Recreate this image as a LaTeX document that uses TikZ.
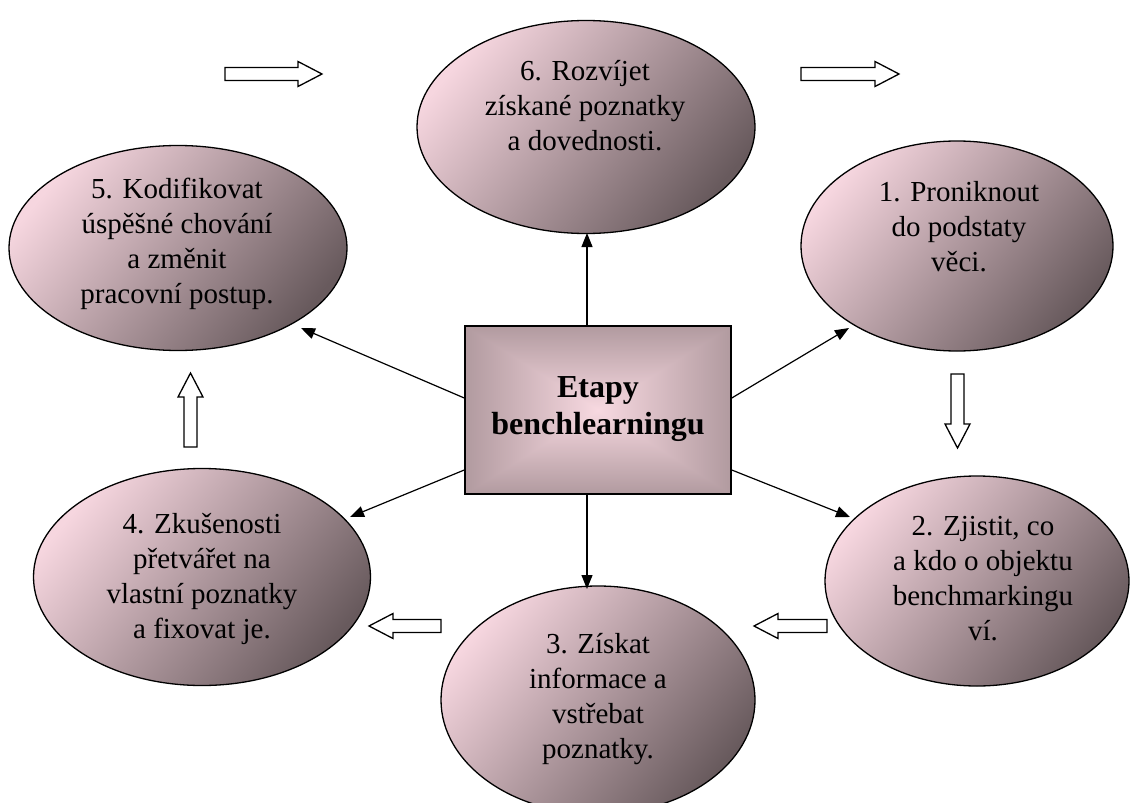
\documentclass[tikz,border=0pt]{standalone}
\usepackage{fontspec}
\setmainfont{Liberation Serif}
\usetikzlibrary{shapes.geometric,arrows.meta,calc}
\definecolor{elA}{RGB}{246,214,223}
\definecolor{elB}{RGB}{104,90,93}
\pgfdeclarefunctionalshading{burst}{\pgfpoint{-50bp}{-50bp}}{\pgfpoint{50bp}{50bp}}{}{
abs exch abs 2 copy lt {exch} if pop 50 div
dup -0.55 mul 0.97 add
exch dup -0.49 mul 0.85 add
exch -0.51 mul 0.88 add
}
\newcommand{\blockarr}[4]{\draw[blk, shift={(#1,#2)}, rotate=#3] (0,-6.5) -- ({#4-24},-6.5) -- ({#4-24},-12.5) -- (#4,0) -- ({#4-24},12.5) -- ({#4-24},6.5) -- (0,6.5) -- cycle;}
\tikzset{
  ell/.style={ellipse, draw=black, line width=1.3pt, inner sep=0pt, top color=elA, bottom color=elB, shading angle=50},
  lbl/.style={align=center, font=\fontsize{29}{35}\selectfont, inner sep=0pt},
  conn/.style={line width=1.2pt, -{Triangle[length=14pt,width=11pt]}},
  blk/.style={draw=black, line width=1.3pt, fill=white, line join=miter},
}
\begin{document}
\begin{tikzpicture}[x=1pt,y=-1pt]
\useasboundingbox (0,0) rectangle (1130,803);
% ellipses
\node[ell, minimum width=338pt, minimum height=213pt] (e6) at (586,127) {};
\node[ell, minimum width=338pt, minimum height=205pt] (e5) at (178,248) {};
\node[ell, minimum width=312pt, minimum height=210pt] (e1) at (957,246) {};
\node[ell, minimum width=304pt, minimum height=210pt] (e2) at (977,581) {};
\node[ell, minimum width=337pt, minimum height=217pt] (e4) at (202,577) {};
\node[ell, minimum width=314pt, minimum height=228pt] (e3) at (598,700) {};
% texts
\node[lbl] (t6) at (585,106) {6. Rozvíjet\\získané poznatky\\a dovednosti.};
\node[lbl] (t5) at (177,244) {5. Kodifikovat\\úspěšné chování\\a změnit\\pracovní postup.};
\node[lbl] (t1) at (959,227) {1. Proniknout\\do podstaty\\věci.};
\node[lbl] (t2) at (983,579) {2. Zjistit, co\\a kdo o objektu\\benchmarkingu\\ví.};
\node[lbl] (t3) at (598,699) {3. Získat\\informace a\\vstřebat\\poznatky.};
\node[lbl] (t4) at (202,579) {4. Zkušenosti\\přetvářet na\\vlastní poznatky\\a fixovat je.};
% central box
\node[draw=black, line width=1.5pt, shade, shading=burst, minimum width=266pt, minimum height=168pt, inner sep=0pt] (box) at (598,410) {};
\node[align=center, font=\bfseries\fontsize{32}{37}\selectfont, inner sep=0pt] (tb) at (598,409) {Etapy\\benchlearningu};
% connector ends
\coordinate (a6) at (587,233);
\coordinate (a5) at (301,328);
\coordinate (a1) at (849,328);
\coordinate (a4) at (350,517);
\coordinate (a2) at (850,517);
\coordinate (a3) at (587,589);
\draw[conn] ($(box.north)+(-11,0)$) -- (a6);
\draw[conn] ($(box.west)+(0,-12)$) -- (a5);
\draw[conn] ($(box.east)+(0,-12)$) -- (a1);
\draw[conn] ($(box.west)+(0,60)$) -- (a4);
\draw[conn] ($(box.east)+(0,60)$) -- (a2);
\draw[conn] ($(box.south)+(-11,0)$) -- (a3);
% block arrows
\blockarr{225}{74}{0}{97}
\blockarr{801}{74}{0}{98}
\blockarr{957.5}{374}{-90}{74}
\blockarr{190.5}{447}{90}{74}
\blockarr{441}{626}{180}{72}
\blockarr{827}{626}{180}{73}
\end{tikzpicture}
\end{document}
